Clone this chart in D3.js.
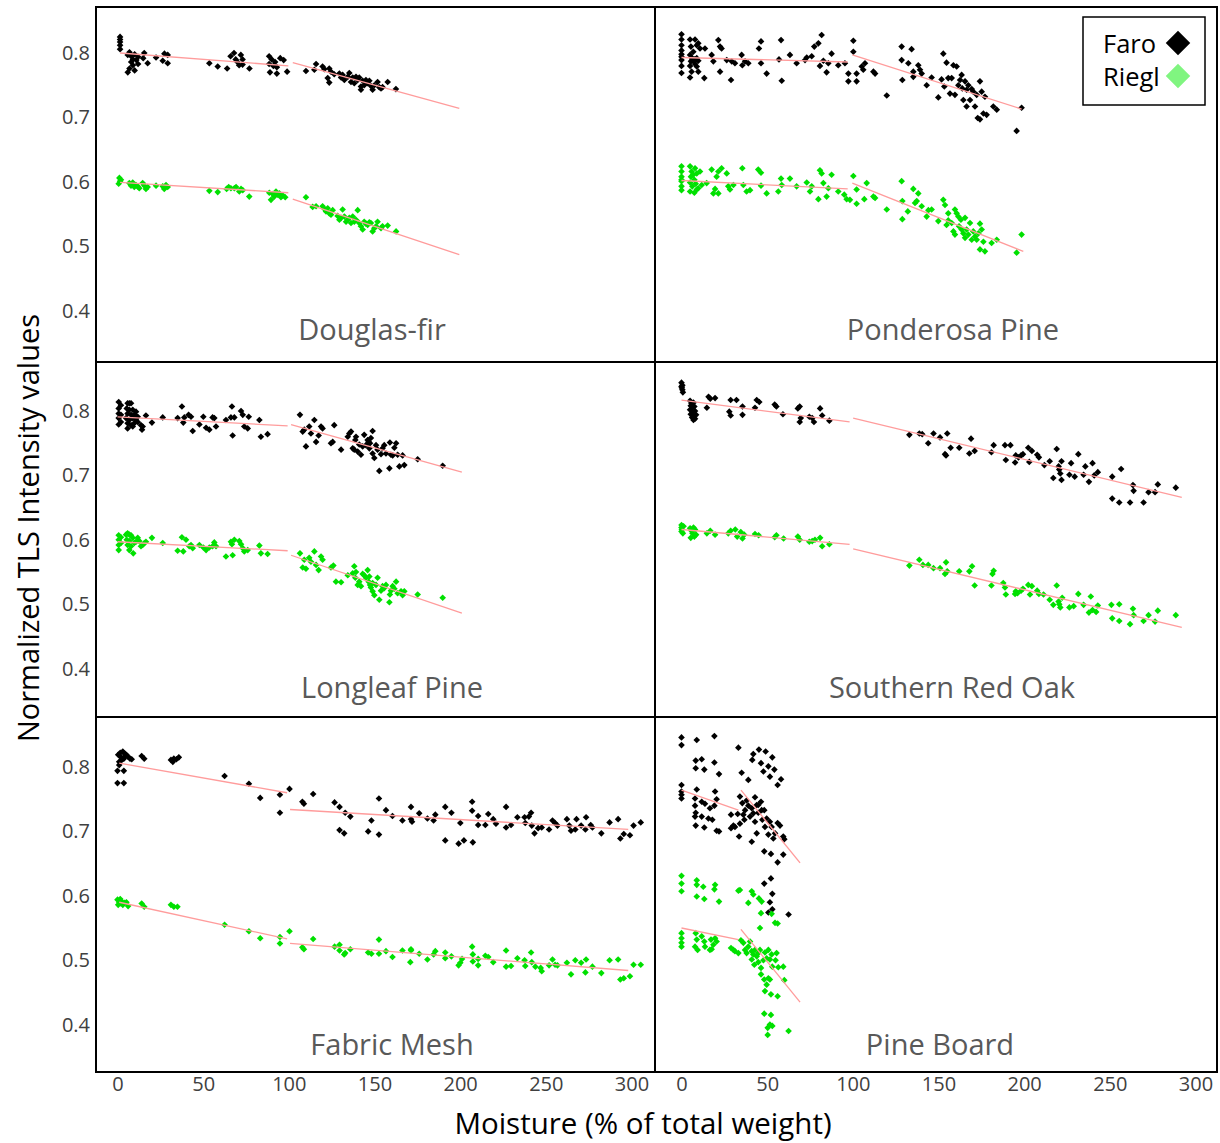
<!DOCTYPE html>
<html>
<head>
<meta charset="utf-8">
<script src="https://cdn.jsdelivr.net/npm/d3@7"></script>
<style>
  body { margin: 0; background: #fff; }
  svg { display: block; font-family: 'Open Sans', 'Noto Sans', sans-serif; }
</style>
</head>
<body>
<svg></svg>
<script>
// ---- data: [moisture %, normalized intensity] ----
let dfFaro = [[1.5,.825],[1.5,.821],[1.5,.817],[1.5,.812],[1.5,.806],[6,.797],[7,.801],[8,.795],[9,.790],[10,.798],[8,.786],[9,.781],[7,.776],[6,.770],[10,.773],[11,.789],[12,.794],[12,.783],[15.6,.800],[15,.792],[17.6,.784],[22.5,.793],[26.4,.788],[27.4,.799],[29.3,.797],[29.3,.784],[53.6,.784],[58.5,.779],[64,.776],[66,.795],[68,.800],[69,.790],[70,.786],[72,.797],[73,.790],[71,.781],[73,.782],[77,.776],[88.5,.795],[90,.790],[92,.786],[95,.792],[97,.789],[88.5,.783],[91,.780],[93,.778],[89,.770],[93,.768],[99,.771],[110,.772],[115.9,.783],[114.9,.774],[119.7,.779],[120.7,.775],[123.6,.776],[124.6,.771],[122.7,.761],[123.6,.754],[126.5,.767],[129.5,.768],[130.5,.762],[131.4,.766],[132.4,.758],[134.4,.763],[135.3,.769],[136.3,.755],[137.3,.762],[138.2,.753],[139.2,.763],[140.2,.758],[141.1,.762],[142.1,.748],[142.1,.743],[143.1,.757],[144,.750],[145,.758],[146,.753],[147,.757],[147.9,.749],[148.9,.743],[149.9,.750],[151.8,.755],[152.8,.747],[153.8,.745],[154.7,.747],[157.7,.755],[162.5,.744]]
let dfRiegl = [[1.1,.606],[1.5,.601],[0.7,.597],[2,.603],[6.9,.598],[7.9,.594],[8.9,.599],[9.8,.592],[10.8,.595],[11.8,.593],[12.7,.590],[14.7,.598],[15.7,.594],[16.6,.589],[17.6,.592],[22.5,.594],[26.4,.593],[27.3,.589],[28.3,.595],[29.3,.592],[53.6,.586],[58.5,.584],[63.7,.589],[64.9,.592],[66.2,.590],[68.2,.590],[69.2,.592],[71.1,.585],[72.1,.589],[73.1,.587],[76.9,.577],[88.6,.583],[89.6,.572],[90.6,.581],[91.5,.577],[92.5,.585],[93.5,.580],[94.5,.582],[95.4,.576],[96.4,.579],[97.9,.576],[110,.576],[113.9,.561],[115.9,.562],[119.7,.562],[120.7,.558],[121.7,.554],[122.7,.559],[123.6,.551],[124.6,.549],[125.6,.556],[128.5,.547],[129.5,.541],[130.5,.544],[131.4,.557],[132.4,.546],[133.4,.538],[134.4,.541],[135.3,.544],[136.3,.536],[137.3,.546],[138.2,.538],[139.2,.541],[140.2,.556],[141.1,.536],[142.1,.531],[143.1,.526],[144,.538],[145,.535],[146,.533],[147,.537],[147.9,.536],[148.9,.523],[149.9,.528],[150.9,.531],[151.8,.538],[153.8,.528],[154.7,.531],[157.7,.532],[162.6,.523]]
let dfFaroFit = [[[1.5,.800],[99.7,.780]],[[102.3,.785],[199.5,.714]]]
let dfRieglFit = [[[1.5,.599],[99.7,.583]],[[102.3,.573],[199.5,.487]]]

let ppFaro = [[0,.829],[0,.821],[0,.812],[0,.804],[0,.798],[0,.794],[0,.789],[0,.780],[0,.769],[5,.821],[7.9,.821],[9.8,.815],[5.5,.810],[6.9,.802],[5,.797],[5.9,.793],[7.5,.790],[8.9,.792],[9.8,.788],[5.5,.787],[7.9,.783],[5,.780],[8.9,.779],[9.8,.771],[5.9,.771],[5,.762],[10.8,.807],[8.9,.812],[6.3,.789],[7.5,.787],[8.3,.790],[13.3,.761],[13.7,.807],[17.6,.797],[18.6,.787],[21.5,.820],[22.5,.810],[23.4,.807],[22.5,.771],[26.4,.789],[29.3,.787],[28.9,.758],[31.2,.784],[35.1,.797],[35.5,.781],[37.1,.787],[39,.784],[45.2,.807],[46.4,.818],[46.4,.784],[49.7,.768],[56.9,.790],[58.1,.820],[58.5,.757],[63.3,.797],[67.2,.784],[72.1,.789],[73.1,.793],[76,.795],[77.5,.810],[79.9,.815],[80.8,.780],[81.8,.828],[82.8,.788],[84.7,.770],[85.7,.784],[87.6,.799],[91.5,.781],[95.4,.784],[97.4,.768],[97.4,.756],[100.3,.819],[100.3,.802],[102.2,.768],[102.2,.756],[107.1,.784],[106.1,.774],[105.2,.779],[112,.771],[113,.768],[119.8,.734],[128.5,.810],[128.5,.789],[128.9,.758],[132.4,.784],[134.3,.806],[135.3,.771],[135.3,.763],[138.2,.781],[139.2,.774],[140.2,.768],[143.1,.750],[146,.762],[149.9,.731],[151.8,.759],[152.8,.799],[153.4,.748],[154.7,.785],[155.7,.761],[156.7,.737],[157.7,.761],[158.7,.781],[159.6,.735],[160.6,.779],[161.6,.750],[162.6,.758],[163.5,.766],[163.9,.745],[164.5,.727],[165.5,.756],[166.4,.743],[166.4,.717],[167.4,.750],[168.4,.727],[169.4,.744],[170.3,.740],[171.3,.717],[172.3,.735],[172.9,.699],[174.2,.756],[174.2,.697],[175.2,.740],[176.2,.706],[177.1,.732],[178.1,.704],[182,.717],[184,.712],[195.6,.679],[198.5,.715]]
let ppRiegl = [[0,.624],[0,.616],[0,.608],[0,.601],[0,.593],[0,.587],[0,.603],[5,.624],[7.9,.621],[5.9,.616],[8.9,.613],[10.8,.616],[5.5,.608],[7.5,.603],[5,.599],[8.3,.597],[6.3,.593],[9.8,.590],[5,.585],[7.5,.583],[8.9,.588],[6.9,.611],[11.8,.595],[14.7,.598],[17.6,.619],[18.6,.582],[19.6,.589],[20.5,.608],[21.5,.616],[21.5,.582],[23.4,.621],[26.4,.613],[27.3,.593],[28.3,.588],[30.3,.595],[35.5,.621],[36.1,.595],[38,.585],[40,.587],[44.8,.619],[46.4,.614],[46.4,.594],[49.7,.582],[56.5,.585],[58.1,.605],[58.5,.595],[63.3,.605],[67.2,.593],[73.1,.599],[75,.585],[76,.593],[79.9,.573],[80.8,.618],[81.8,.613],[82.8,.598],[84.7,.577],[85.7,.590],[87.6,.611],[91.5,.585],[95,.580],[96.4,.573],[98.3,.572],[100.3,.609],[102.2,.588],[102.2,.566],[106.7,.573],[108.1,.598],[112,.577],[113,.575],[119.8,.557],[128.5,.601],[128.9,.570],[128.9,.542],[132.1,.554],[135.3,.589],[136.3,.567],[137.3,.570],[138.2,.582],[140.2,.562],[143.1,.546],[144.1,.556],[146,.557],[149.9,.539],[152.8,.572],[153.8,.564],[154.7,.533],[155.7,.551],[155.7,.540],[157.7,.536],[158.7,.523],[159.6,.557],[159.6,.518],[160.6,.551],[161.6,.546],[162,.531],[163.1,.541],[163.5,.526],[164.5,.520],[165.5,.544],[165.5,.513],[166.4,.526],[167.4,.518],[168.4,.536],[169.4,.510],[170.3,.523],[171.3,.515],[172.3,.510],[173.3,.520],[174.2,.535],[174.2,.495],[175.2,.526],[176.2,.507],[177.1,.492],[181,.505],[184,.510],[195.6,.490],[198.5,.518]]
let ppFaroFit = [[[0,.793],[97,.786]],[[99.7,.797],[198.5,.713]]]
let ppRieglFit = [[[0,.602],[97,.589]],[[99.7,.598],[199.5,.492]]]

let llFaro = [[0.7,.814],[0.7,.804],[0.7,.796],[0.7,.789],[0.7,.779],[2,.809],[2,.794],[2,.783],[5.9,.812],[6.9,.812],[7.9,.812],[5.4,.804],[6.9,.802],[8.9,.802],[10.8,.799],[5.9,.796],[7.9,.794],[9.8,.794],[11.8,.791],[5,.789],[6.9,.786],[8.9,.789],[10.8,.786],[5.9,.781],[7.9,.778],[9.8,.781],[5.9,.773],[8.9,.776],[11.8,.783],[13.7,.778],[14.3,.771],[14.7,.776],[16.6,.793],[20.1,.782],[26.4,.790],[35.1,.789],[37.6,.807],[38.4,.782],[39,.790],[41.5,.794],[42.9,.791],[43.9,.769],[47.8,.779],[50.1,.791],[51.7,.774],[53.6,.771],[55.5,.790],[56.5,.789],[57.5,.776],[63.3,.786],[66.2,.790],[66.8,.807],[67.2,.762],[68.2,.790],[72.1,.800],[73.1,.794],[74,.776],[76,.773],[76.6,.791],[82.8,.786],[83.7,.760],[87.6,.764],[106.5,.794],[108.1,.768],[109,.771],[110,.745],[111.9,.776],[112.9,.765],[114.9,.786],[115.9,.752],[117.4,.762],[118.8,.776],[119.7,.773],[124.6,.750],[125.6,.752],[126.5,.778],[130.5,.740],[134.4,.760],[135.3,.765],[136.3,.768],[137.3,.742],[138.2,.740],[138.8,.755],[139.2,.760],[140.2,.737],[141.1,.748],[142.1,.732],[143.1,.745],[144,.763],[145,.747],[146,.755],[146.6,.752],[147,.742],[147.4,.750],[147.9,.758],[148.9,.734],[148.9,.769],[149.9,.727],[150.9,.747],[151.8,.740],[152.8,.707],[153.8,.733],[154.7,.742],[155.7,.747],[156.7,.734],[158.7,.711],[159,.751],[159.6,.732],[160.6,.731],[161.6,.743],[162.6,.750],[163.5,.732],[164.5,.714],[166.4,.731],[167.4,.716],[175.2,.725],[189.8,.715]]
let llRiegl = [[0.7,.607],[0.7,.600],[0.7,.592],[0.7,.584],[2,.604],[2,.595],[5,.608],[5.9,.610],[6.9,.608],[7.9,.607],[5.4,.600],[6.9,.598],[8.9,.603],[5.9,.592],[7.9,.590],[9.8,.595],[6.9,.584],[9.2,.579],[10.8,.597],[11.8,.603],[12.7,.598],[13.7,.590],[14.7,.592],[15.7,.595],[16.6,.597],[20.1,.603],[26.4,.595],[35.1,.583],[37.6,.604],[38.4,.582],[40,.600],[41.9,.590],[42.9,.592],[43.9,.587],[47.8,.592],[50.1,.588],[51.7,.584],[53.6,.588],[55.5,.590],[56.5,.596],[57.5,.590],[63.3,.574],[66.2,.597],[66.8,.593],[67.2,.576],[68.2,.600],[71.1,.598],[72.1,.593],[73.1,.587],[74,.582],[76,.584],[82.8,.591],[83.7,.579],[87.6,.578],[106.5,.579],[108.1,.557],[109,.569],[110,.555],[111.9,.572],[112.9,.566],[114.9,.582],[115.9,.561],[117.4,.553],[118.8,.574],[119.7,.569],[124.6,.557],[126,.560],[127.5,.535],[130.5,.534],[134.4,.545],[137.3,.548],[138.2,.559],[138.8,.541],[139.2,.550],[140.2,.530],[141.1,.535],[142.1,.528],[143.1,.547],[144,.545],[145,.541],[146,.553],[146.6,.535],[147,.543],[147.4,.530],[147.9,.526],[148.9,.533],[148.9,.520],[149.9,.514],[150.9,.530],[151.8,.541],[152.8,.507],[153.8,.521],[154.7,.528],[155.7,.525],[156.7,.530],[158.7,.503],[159,.515],[159.6,.521],[160.6,.528],[161.6,.524],[162.6,.535],[163.5,.517],[165.5,.520],[166.4,.514],[167.4,.520],[175.2,.515],[189.8,.510]]
let llFaroFit = [[[0,.791],[99.3,.777]],[[101.3,.779],[201,.705]]]
let llRieglFit = [[[0,.597],[99.3,.583]],[[101.3,.576],[201,.486]]]

let soFaro = [[0,.844],[0.5,.840],[0.2,.836],[0.5,.833],[0.8,.829],[0,.838],[5,.816],[5.8,.812],[7,.813],[5.4,.808],[6.4,.805],[7.5,.807],[5,.802],[6.2,.799],[7.9,.800],[5.4,.795],[7,.793],[8.5,.794],[6.2,.790],[7.9,.788],[7,.786],[14.8,.805],[15.8,.822],[16.8,.819],[19.6,.820],[28.7,.817],[32.1,.817],[27.9,.799],[28.7,.793],[35.6,.794],[35.6,.807],[42.9,.805],[43.9,.817],[45.4,.814],[54.4,.810],[55.4,.807],[59.2,.795],[67.9,.804],[69,.807],[69.6,.789],[69,.783],[74.6,.791],[76.3,.789],[77.3,.783],[80.9,.804],[82.1,.793],[86.3,.785],[133,.763],[138.8,.765],[140.5,.764],[144,.750],[147.1,.765],[150.9,.759],[155.1,.765],[157.1,.743],[153.8,.733],[154.4,.731],[162.1,.743],[169,.757],[168,.734],[171.1,.738],[180.9,.736],[182.2,.747],[188.8,.747],[189.3,.724],[192,.747],[194.7,.720],[195.1,.731],[196.7,.728],[198.2,.731],[199.3,.733],[202.4,.743],[203,.721],[204.5,.738],[207.6,.732],[208.6,.728],[211.8,.716],[214.9,.722],[217,.696],[219,.741],[220.1,.714],[220.5,.709],[221.1,.703],[221.8,.722],[221.8,.693],[226.4,.701],[227.4,.719],[229.5,.698],[231.6,.733],[234.7,.701],[235.7,.714],[237.8,.690],[239.9,.719],[240.9,.700],[243,.705],[251.4,.698],[251.4,.664],[255.5,.658],[256.6,.710],[261.8,.658],[263.5,.685],[263.9,.676],[269.7,.658],[272.6,.674],[276.4,.674],[278,.686],[288.5,.681]]
let soRiegl = [[0,.623],[0,.619],[0.2,.616],[0,.613],[0.8,.610],[1.2,.621],[5,.618],[5.8,.614],[7,.619],[6.4,.610],[7.5,.605],[5.4,.603],[7.9,.616],[8.5,.608],[14.8,.610],[16.8,.614],[19.6,.608],[27.3,.610],[28.7,.614],[31.4,.616],[32.5,.605],[34.6,.612],[35.6,.602],[36.6,.608],[42.9,.609],[45,.607],[54.4,.604],[55.4,.607],[59.6,.602],[67.9,.605],[69,.600],[74.6,.597],[76.3,.598],[77.9,.600],[80.9,.603],[82.1,.590],[86.3,.593],[133,.560],[138.8,.569],[140.9,.561],[144,.561],[147.1,.556],[150.9,.556],[154.4,.565],[153.8,.547],[155.1,.551],[162.1,.551],[168,.551],[169.6,.559],[171.1,.529],[180.9,.529],[181.5,.547],[182.2,.552],[187.8,.533],[188.8,.526],[189.3,.515],[194.7,.516],[195.1,.520],[196.1,.517],[198.2,.521],[199.3,.524],[202.4,.530],[203.4,.515],[204.5,.528],[207.6,.521],[208.6,.516],[211.3,.515],[214.9,.507],[217,.499],[219,.529],[220.1,.504],[220.5,.500],[221.1,.495],[222.2,.510],[226.4,.495],[228.9,.497],[231.6,.516],[234.7,.499],[237.8,.487],[238.9,.512],[239.9,.491],[242,.488],[243,.498],[250.9,.499],[251.4,.478],[255.5,.500],[255.5,.474],[261.8,.469],[263.5,.493],[263.9,.483],[269.7,.474],[272.6,.483],[276.4,.473],[278,.490],[288.5,.483]]
let soFaroFit = [[[0,.817],[98.1,.783]],[[100.2,.789],[292,.666]]]
let soRieglFit = [[[0,.616],[98.1,.593]],[[100.2,.586],[292,.464]]]

let fmFaro = [[0.4,.819],[1.6,.822],[3.1,.824],[4.1,.821],[5.2,.819],[2,.815],[3.7,.813],[1,.808],[2.5,.811],[6.2,.816],[7.3,.813],[8.3,.812],[4.5,.817],[0,.775],[3.7,.775],[0,.794],[3.7,.794],[1,.803],[14.1,.817],[15.6,.813],[31.2,.811],[32.9,.813],[34.4,.812],[35.8,.815],[32.3,.808],[62.5,.786],[76.7,.774],[83.3,.752],[94.8,.757],[94.8,.729],[100.4,.766],[107.9,.746],[108.8,.743],[114.2,.758],[126.7,.745],[129.6,.738],[129.6,.702],[132.3,.697],[132.9,.729],[135.9,.723],[146.3,.700],[148.2,.717],[152.6,.751],[152.6,.695],[156.7,.733],[160.5,.724],[166.3,.717],[171.3,.738],[171.3,.719],[171.9,.715],[176.1,.728],[180.9,.720],[184.5,.717],[185.5,.726],[191.3,.738],[191.3,.686],[194.9,.729],[199.1,.681],[200.1,.713],[202.2,.686],[207,.746],[207,.732],[207.4,.683],[210.5,.724],[210.5,.710],[214.7,.710],[216.4,.727],[219.3,.719],[220.9,.712],[226.8,.738],[226.8,.706],[229.7,.710],[233.4,.722],[237.6,.722],[238,.713],[240.1,.723],[241.4,.729],[241.8,.709],[243.4,.697],[245.5,.705],[247.6,.706],[251.9,.703],[253.9,.717],[255.4,.713],[256.8,.709],[262.3,.719],[263.7,.709],[264.7,.701],[267.9,.719],[267.2,.703],[270.6,.709],[273.1,.703],[273.5,.722],[276.2,.710],[277.2,.706],[282.4,.697],[287.2,.714],[292.2,.719],[293.5,.689],[295.5,.696],[299.1,.694],[301.2,.709],[305.4,.714]]
let fmRiegl = [[0,.594],[1,.590],[1.6,.595],[2.5,.591],[3.1,.586],[4.1,.589],[5.2,.590],[0.4,.586],[6.2,.584],[2,.588],[14.1,.588],[15.6,.583],[31.2,.586],[32.9,.583],[35,.583],[62.5,.555],[76.7,.545],[83.3,.534],[94.8,.536],[94.8,.526],[100.4,.545],[107.9,.520],[108.8,.517],[114.2,.533],[126.7,.521],[129.6,.524],[129.6,.515],[132.3,.509],[132.9,.511],[135.9,.517],[146.3,.512],[148.2,.510],[152.6,.532],[152.6,.510],[156.7,.514],[160.5,.505],[166.3,.515],[171.3,.517],[171.3,.515],[170.9,.497],[176.1,.510],[180.9,.501],[184.5,.509],[185.5,.514],[191.3,.512],[191.3,.503],[194.9,.506],[199.1,.492],[200.1,.496],[201.1,.502],[207,.521],[207.4,.509],[207.4,.498],[210.5,.502],[210.5,.492],[214.7,.507],[216.4,.505],[219.3,.497],[226.8,.515],[226.8,.490],[229.7,.491],[233.4,.503],[237.6,.500],[238,.491],[241.4,.512],[241.8,.497],[243.9,.490],[247,.488],[247.6,.483],[251.9,.492],[253.9,.501],[255.4,.493],[256.8,.492],[262.3,.496],[264.7,.478],[267.2,.500],[270.6,.496],[273.1,.481],[273.5,.501],[277.2,.490],[282.4,.480],[287.2,.500],[292.2,.501],[293.5,.470],[295.5,.472],[299.1,.475],[301.2,.493],[305.4,.493]]
let fmFaroFit = [[[1,.806],[99,.760]],[[100.7,.734],[298.1,.703]]]
let fmRieglFit = [[[1,.590],[99,.533]],[[100.7,.526],[298.1,.484]]]

let pbFaro = [[0,.846],[0,.834],[8.9,.842],[19.2,.848],[33.2,.830],[8.3,.810],[11.8,.812],[8.3,.798],[13.3,.796],[19.2,.807],[21.9,.789],[35.1,.791],[39,.780],[41.9,.820],[41.3,.811],[45.2,.827],[49.1,.824],[46.4,.806],[53,.815],[50.7,.801],[47.8,.793],[51.6,.785],[54.2,.796],[56.1,.772],[58.1,.781],[0,.772],[0,.762],[0,.757],[0,.751],[8.9,.765],[19.6,.762],[7.9,.751],[11.8,.746],[13.7,.743],[20.5,.750],[19.2,.740],[7.9,.740],[16.6,.736],[8.3,.729],[11.8,.723],[15.7,.720],[18,.718],[7.9,.723],[8.3,.709],[13.3,.706],[20.5,.701],[21.9,.700],[28.9,.726],[30.3,.709],[28.9,.705],[31.2,.707],[33.6,.692],[34.1,.754],[35.5,.744],[37.1,.733],[36.1,.726],[39,.740],[38,.748],[41,.736],[42.9,.753],[41.9,.728],[43.9,.741],[42.9,.715],[44.8,.729],[46.4,.746],[47.2,.718],[48.3,.733],[48.7,.707],[49.7,.720],[50.7,.695],[51.6,.715],[52.6,.707],[53.6,.689],[54.6,.697],[56.1,.713],[57.5,.709],[59.4,.692],[60,.688],[48.3,.669],[52.2,.665],[56.1,.652],[59.4,.664],[41,.684],[43.9,.697],[44.8,.741],[46.8,.733],[40,.723],[36.7,.718],[34.1,.712],[32.8,.727],[52.2,.627],[48.3,.619],[53,.603],[51.6,.590],[50.7,.574],[62.5,.571],[53,.579]]
let pbRiegl = [[0,.631],[0,.619],[0,.607],[8.9,.624],[8.9,.617],[12.7,.614],[19.6,.617],[19.2,.610],[8.9,.599],[13.3,.595],[21.9,.591],[33.2,.608],[34.1,.609],[41,.607],[41.9,.602],[45.2,.596],[46.8,.591],[39,.589],[46.4,.573],[52.6,.572],[54.6,.558],[56.1,.557],[45.8,.550],[0,.542],[0,.534],[0,.527],[0,.521],[8.3,.542],[8.9,.532],[7.9,.521],[9.4,.516],[11.8,.537],[13.3,.529],[13.7,.521],[17.2,.532],[17.6,.517],[19.6,.534],[20.5,.529],[18.6,.524],[16.6,.516],[28.9,.519],[30.3,.516],[31.2,.514],[33.2,.511],[34.7,.531],[36.1,.527],[37.1,.516],[38,.511],[39,.521],[40,.529],[41,.514],[41.9,.509],[42.9,.516],[43.9,.506],[44.8,.511],[41,.501],[42.5,.493],[44.8,.497],[46.4,.488],[47.8,.500],[45.8,.516],[48.7,.512],[49.7,.503],[50.7,.516],[51.6,.501],[52.6,.509],[53,.490],[55.5,.511],[54.9,.500],[56.5,.489],[59.4,.490],[46.4,.478],[48.3,.470],[50.7,.472],[51.6,.470],[49.7,.462],[48.7,.452],[52.2,.447],[56.1,.444],[60,.469],[48.3,.417],[52.2,.415],[51.6,.400],[50.3,.395],[53,.398],[50.3,.384],[62.5,.390]]
let pbFaroFit = [[[0,.764],[33.2,.733]],[[34.7,.764],[69.2,.651]]]
let pbRieglFit = [[[0,.550],[33.2,.532]],[[34.7,.548],[69.2,.435]]]

let panelNames = ['Douglas-fir', 'Ponderosa Pine', 'Longleaf Pine', 'Southern Red Oak', 'Fabric Mesh', 'Pine Board']
let xTicks = [0, 50, 100, 150, 200, 250, 300]
let yTicks = [0.4, 0.5, 0.6, 0.7, 0.8]
let seriesNames = ['Faro', 'Riegl']

// ---- layout ----
let width = 1220
let height = 1143
let frameLeft = 96
let frameRight = 1217
let frameTop = 7
let frameBottom = 1072
let colSplit = 655
let rowTops = [7, 362, 717]
let rowY08 = [53, 411, 767]     // pixel of 0.8 in each row
let pxPerTenth = 64.4
let colX0 = [117.5, 681.5]      // pixel of 0 moisture in each column
let pxPerUnit = 1.7133
let labelX = [372, 953, 392, 952, 392, 940]
let labelY = [328, 686, 1043]

let faroColor = '#000000'
let rieglColor = '#00e000'
let fitColor = '#ff9c9c'

let panels = [
    {faro: dfFaro, riegl: dfRiegl, faroFit: dfFaroFit, rieglFit: dfRieglFit},
    {faro: ppFaro, riegl: ppRiegl, faroFit: ppFaroFit, rieglFit: ppRieglFit},
    {faro: llFaro, riegl: llRiegl, faroFit: llFaroFit, rieglFit: llRieglFit},
    {faro: soFaro, riegl: soRiegl, faroFit: soFaroFit, rieglFit: soRieglFit},
    {faro: fmFaro, riegl: fmRiegl, faroFit: fmFaroFit, rieglFit: fmRieglFit},
    {faro: pbFaro, riegl: pbRiegl, faroFit: pbFaroFit, rieglFit: pbRieglFit}
]

let svg = d3.select('svg')
    .attr('width', width)
    .attr('height', height)

svg.append('rect')
    .attr('width', width)
    .attr('height', height)
    .attr('fill', '#fff')

// scales for each column / row
let xScales = colX0.map((x0) => {
    return d3.scaleLinear().domain([0, 300]).range([x0, x0 + 300 * pxPerUnit])
})
let yScales = rowY08.map((y8) => {
    return d3.scaleLinear().domain([0.4, 0.8]).range([y8 + 4 * pxPerTenth, y8])
})

// custom square diamond marker
let diamond = {
    draw: (ctx, size) => {
        let r = Math.sqrt(size / 2)
        ctx.moveTo(0, -r)
        ctx.lineTo(r, 0)
        ctx.lineTo(0, r)
        ctx.lineTo(-r, 0)
        ctx.closePath()
    }
}
let marker = d3.symbol().type(diamond).size(22)

let drawPanels = () => {
    panels.forEach((p, i) => {
        let col = i % 2
        let row = Math.floor(i / 2)
        let xScale = xScales[col]
        let yScale = yScales[row]
        let g = svg.append('g').attr('class', 'panel')

        let drawPoints = (data, color) => {
            g.append('g')
                .selectAll('path')
                .data(data)
                .enter()
                .append('path')
                .attr('d', marker)
                .attr('fill', color)
                .attr('transform', (d) => {
                    return 'translate(' + xScale(d[0]) + ',' + yScale(d[1]) + ')'
                })
        }
        drawPoints(p.faro, faroColor)
        drawPoints(p.riegl, rieglColor)

        let line = d3.line()
            .x((d) => xScale(d[0]))
            .y((d) => yScale(d[1]))

        g.append('g')
            .selectAll('path')
            .data(p.faroFit.concat(p.rieglFit))
            .enter()
            .append('path')
            .attr('d', line)
            .attr('fill', 'none')
            .attr('stroke', fitColor)
            .attr('stroke-width', 1.3)

        g.append('text')
            .attr('x', labelX[i])
            .attr('y', labelY[row])
            .attr('text-anchor', 'middle')
            .attr('dominant-baseline', 'central')
            .attr('font-size', 29)
            .attr('fill', '#595959')
            .text(panelNames[i])
    })
}

let drawAxes = () => {
    yScales.forEach((yScale) => {
        let yAxis = d3.axisLeft(yScale)
            .tickValues(yTicks)
            .tickSize(0)
            .tickPadding(6)
            .tickFormat(d3.format('.1f'))
        let ga = svg.append('g')
            .attr('transform', 'translate(' + frameLeft + ',0)')
            .call(yAxis)
        ga.select('.domain').remove()
        ga.selectAll('text')
            .attr('font-size', 20)
            .attr('font-family', "'Open Sans', sans-serif")
            .attr('fill', '#404040')
    })

    xScales.forEach((xScale) => {
        let xAxis = d3.axisBottom(xScale)
            .tickValues(xTicks)
            .tickSize(0)
            .tickPadding(5)
        let ga = svg.append('g')
            .attr('transform', 'translate(0,' + frameBottom + ')')
            .call(xAxis)
        ga.select('.domain').remove()
        ga.selectAll('text')
            .attr('font-size', 20)
            .attr('font-family', "'Open Sans', sans-serif")
            .attr('fill', '#404040')
    })

    svg.append('text')
        .attr('x', 643)
        .attr('y', 1122)
        .attr('text-anchor', 'middle')
        .attr('dominant-baseline', 'central')
        .attr('font-size', 29.5)
        .attr('fill', '#000')
        .text('Moisture (% of total weight)')

    svg.append('text')
        .attr('transform', 'translate(27,528) rotate(-90)')
        .attr('text-anchor', 'middle')
        .attr('dominant-baseline', 'central')
        .attr('font-size', 29)
        .attr('fill', '#000')
        .text('Normalized TLS Intensity values')
}

let drawFrame = () => {
    let f = svg.append('g')
        .attr('stroke', '#000')
        .attr('stroke-width', 2)
        .attr('fill', 'none')
    f.append('rect')
        .attr('x', frameLeft)
        .attr('y', frameTop)
        .attr('width', frameRight - frameLeft)
        .attr('height', frameBottom - frameTop)
    f.append('line')
        .attr('x1', colSplit).attr('x2', colSplit)
        .attr('y1', frameTop).attr('y2', frameBottom)
    rowTops.slice(1).forEach((y) => {
        f.append('line')
            .attr('x1', frameLeft).attr('x2', frameRight)
            .attr('y1', y).attr('y2', y)
    })
}

let drawLegend = () => {
    let lg = svg.append('g')
    lg.append('rect')
        .attr('x', 1083)
        .attr('y', 17)
        .attr('width', 122)
        .attr('height', 88)
        .attr('fill', '#fff')
        .attr('stroke', '#000')
        .attr('stroke-width', 1.5)
    let legendColors = [faroColor, '#80f580']
    let bigMarker = d3.symbol().type(diamond).size(300)
    seriesNames.forEach((name, i) => {
        let cy = 43 + i * 33
        lg.append('text')
            .attr('x', 1103)
            .attr('y', cy)
            .attr('dominant-baseline', 'central')
            .attr('font-size', 25.5)
            .attr('fill', '#000')
            .text(name)
        lg.append('path')
            .attr('d', bigMarker)
            .attr('fill', legendColors[i])
            .attr('transform', 'translate(1178,' + cy + ')')
    })
}

drawPanels()
drawAxes()
drawFrame()
drawLegend()
</script>
</body>
</html>
